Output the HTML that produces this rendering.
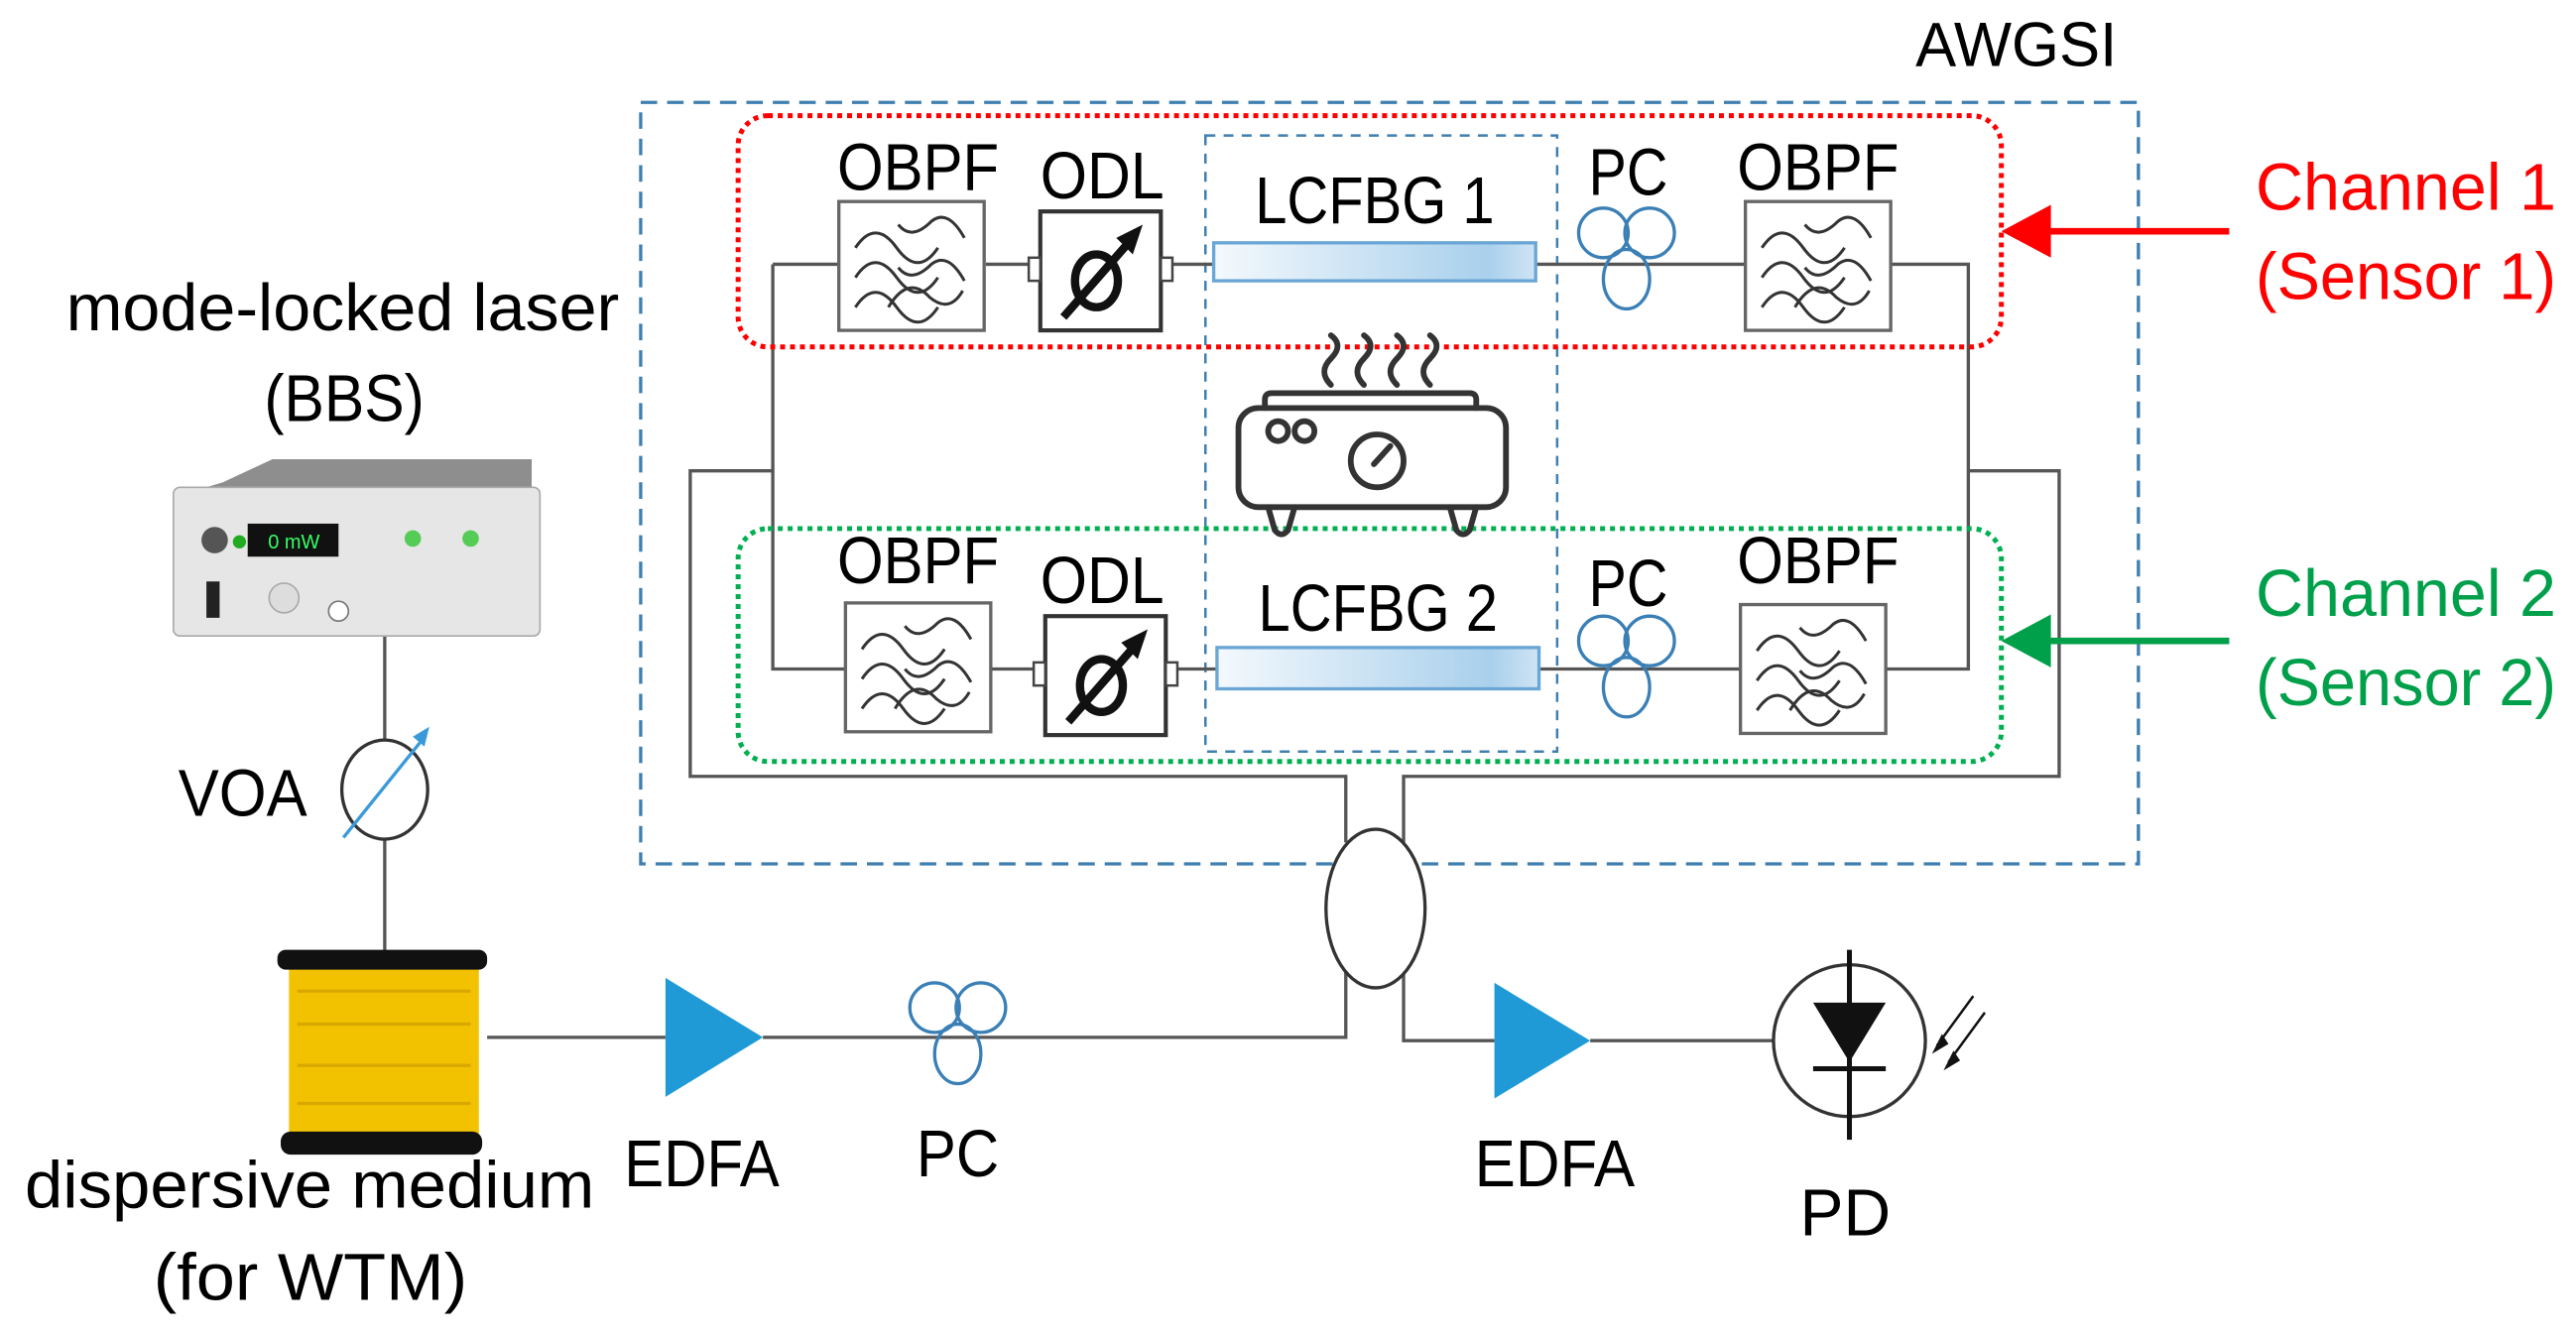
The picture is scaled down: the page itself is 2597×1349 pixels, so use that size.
<!DOCTYPE html>
<html><head><meta charset="utf-8"><style>html,body{margin:0;padding:0;background:#fff}svg{display:block}
text{font-family:"Liberation Sans Narrow","Liberation Sans",sans-serif;}</style></head>
<body>
<svg width="2597" height="1349" viewBox="0 0 1560 810" preserveAspectRatio="none" xmlns="http://www.w3.org/2000/svg">
<defs>
<linearGradient id="fbg" x1="0" x2="1"><stop offset="0" stop-color="#f4f9fd"/><stop offset="0.85" stop-color="#a9d0ec"/><stop offset="1" stop-color="#cfe4f4"/></linearGradient>
<g id="filt"><rect x="0" y="0" width="88" height="78" fill="#fff" stroke="#666" stroke-width="2"/>
<path d="M10 28 q12 -18 25 0 t25 0 M10 46 q12 -18 25 0 t25 0 M10 64 q12 -18 25 0 t25 0 M36 14 q8 10 20 -2 q10 -8 20 10 M36 40 q8 10 20 -2 q10 -8 20 10 M30 64 q12 -20 25 -6 q12 10 20 -4" fill="none" stroke="#333" stroke-width="1.8"/></g>
<g id="odl"><rect x="0" y="0" width="73" height="72" fill="#fff" stroke="#333" stroke-width="2.5"/>
<rect x="-7" y="28" width="7" height="14" fill="#fff" stroke="#444" stroke-width="1.5"/><rect x="73" y="28" width="7" height="14" fill="#fff" stroke="#444" stroke-width="1.5"/>
<ellipse cx="34" cy="42" rx="13" ry="16" fill="none" stroke="#111" stroke-width="5"/>
<line x1="14" y1="64" x2="56" y2="16" stroke="#111" stroke-width="5"/><polygon points="62,8 46,16 56,26" fill="#111"/></g>
<g id="pc" fill="none" stroke="#3a7fb5" stroke-width="2"><circle cx="-14" cy="0" r="15"/><circle cx="14" cy="0" r="15"/><ellipse cx="0" cy="28" rx="14" ry="18"/></g>
</defs>
<rect x="388" y="62" width="907" height="461" fill="none" stroke="#3f7fb0" stroke-width="2" stroke-dasharray="10,6"/>
<text x="1160" y="40" font-size="38" textLength="122" lengthAdjust="spacingAndGlyphs">AWGSI</text>
<rect x="730" y="82" width="213" height="373" fill="none" stroke="#3f7fb0" stroke-width="1.5" stroke-dasharray="6,5"/>
<g fill="none" stroke="#555" stroke-width="2">
<polyline points="468,285 418,285 418,470 815,470 815,510"/>
<polyline points="1192,285 1247,285 1247,470 850,470 850,510"/>
<polyline points="815,588 815,628 462,628"/>
<polyline points="295,628 403,628"/>
<polyline points="850,588 850,630 905,630"/>
<polyline points="963,630 1075,630"/>
<polyline points="468,160 508,160"/><polyline points="468,160 468,405 512,405"/>
<polyline points="597,160 623,160"/><polyline points="710,160 735,160"/>
<polyline points="930,160 1057,160"/><polyline points="1145,160 1192,160 1192,405 1142,405"/>
<polyline points="598,405 626,405"/><polyline points="712,405 737,405"/><polyline points="932,405 1055,405"/>
<line x1="233" y1="385" x2="233" y2="578"/>
</g>
<rect x="447" y="70" width="765" height="140" rx="18" fill="none" stroke="#f00" stroke-width="3" stroke-dasharray="3,3"/>
<rect x="447" y="320" width="765" height="141" rx="18" fill="none" stroke="#00b050" stroke-width="3" stroke-dasharray="3,3"/>
<use href="#filt" x="508" y="122"/><use href="#odl" x="630" y="128"/>
<rect x="735" y="147" width="195" height="23" fill="url(#fbg)" stroke="#6aa6d6" stroke-width="2"/>
<use href="#pc" x="985" y="141"/><use href="#filt" x="1057" y="122"/>
<g font-size="40">
<text x="507" y="115" textLength="98" lengthAdjust="spacingAndGlyphs">OBPF</text>
<text x="630" y="120" textLength="75" lengthAdjust="spacingAndGlyphs">ODL</text>
<text x="760" y="135" textLength="145" lengthAdjust="spacingAndGlyphs">LCFBG 1</text>
<text x="962" y="118" textLength="48" lengthAdjust="spacingAndGlyphs">PC</text>
<text x="1052" y="115" textLength="98" lengthAdjust="spacingAndGlyphs">OBPF</text>
<text x="507" y="353" textLength="98" lengthAdjust="spacingAndGlyphs">OBPF</text>
<text x="630" y="365" textLength="75" lengthAdjust="spacingAndGlyphs">ODL</text>
<text x="762" y="382" textLength="145" lengthAdjust="spacingAndGlyphs">LCFBG 2</text>
<text x="962" y="367" textLength="48" lengthAdjust="spacingAndGlyphs">PC</text>
<text x="1052" y="353" textLength="98" lengthAdjust="spacingAndGlyphs">OBPF</text>
</g>
<use href="#filt" x="512" y="365"/><use href="#odl" x="633" y="373"/>
<rect x="737" y="392" width="195" height="25" fill="url(#fbg)" stroke="#6aa6d6" stroke-width="2"/>
<use href="#pc" x="985" y="388"/><use href="#filt" x="1054" y="366"/>
<g fill="none" stroke="#333" stroke-width="3.5" stroke-linecap="round">
<path d="M806 203 q8 6 0 14 q-8 8 0 16 M826 203 q8 6 0 14 q-8 8 0 16 M846 203 q8 6 0 14 q-8 8 0 16 M866 203 q8 6 0 14 q-8 8 0 16"/>
<path d="M766 247 v-5 q0 -4 4 -4 h120 q4 0 4 4 v5"/>
<rect x="750" y="247" width="162" height="60" rx="12"/>
<circle cx="774" cy="261" r="6"/><circle cx="790" cy="261" r="6"/>
<circle cx="834" cy="279" r="16"/><line x1="832" y1="281" x2="842" y2="270"/>
<path d="M768 307 l4 14 q4 5 8 0 l4 -14 M878 307 l4 14 q4 5 8 0 l4 -14"/>
</g>
<g font-size="40">
<text x="1366" y="127" fill="#f00" textLength="182" lengthAdjust="spacingAndGlyphs">Channel 1</text>
<text x="1366" y="181" fill="#f00" textLength="182" lengthAdjust="spacingAndGlyphs">(Sensor 1)</text>
<text x="1366" y="373" fill="#00a04a" textLength="182" lengthAdjust="spacingAndGlyphs">Channel 2</text>
<text x="1366" y="427" fill="#00a04a" textLength="182" lengthAdjust="spacingAndGlyphs">(Sensor 2)</text>
</g>
<line x1="1350" y1="140" x2="1240" y2="140" stroke="#f00" stroke-width="4"/><polygon points="1212,140 1242,124 1242,156" fill="#f00"/>
<line x1="1350" y1="388" x2="1240" y2="388" stroke="#00a04a" stroke-width="4"/><polygon points="1212,388 1242,372 1242,404" fill="#00a04a"/>
<ellipse cx="833" cy="550" rx="30" ry="48" fill="#fff" stroke="#333" stroke-width="2"/>
<g font-size="40">
<text x="40" y="200" textLength="335" lengthAdjust="spacingAndGlyphs">mode-locked laser</text>
<text x="160" y="255" textLength="97" lengthAdjust="spacingAndGlyphs">(BBS)</text>
<text x="108" y="494" textLength="78" lengthAdjust="spacingAndGlyphs">VOA</text>
<text x="15" y="731" textLength="345" lengthAdjust="spacingAndGlyphs">dispersive medium</text>
<text x="93" y="787" textLength="190" lengthAdjust="spacingAndGlyphs">(for WTM)</text>
<text x="378" y="718" textLength="94" lengthAdjust="spacingAndGlyphs">EDFA</text>
<text x="555" y="712" textLength="50" lengthAdjust="spacingAndGlyphs">PC</text>
<text x="893" y="718" textLength="97" lengthAdjust="spacingAndGlyphs">EDFA</text>
<text x="1090" y="748" textLength="55" lengthAdjust="spacingAndGlyphs">PD</text>
</g>
<polygon points="135,292 165,278 322,278 322,300 108,300" fill="#8e8e8e"/>
<rect x="105" y="295" width="222" height="90" rx="4" fill="#e6e6e6" stroke="#aaa"/>
<rect x="150" y="317" width="55" height="20" fill="#111"/><text x="178" y="332" font-size="12" fill="#3f6" text-anchor="middle">0 mW</text>
<circle cx="130" cy="327" r="8" fill="#555"/><circle cx="145" cy="328" r="4" fill="#2a2"/>
<rect x="125" y="352" width="8" height="22" fill="#222"/><circle cx="172" cy="362" r="9" fill="#ddd" stroke="#aaa"/><circle cx="205" cy="370" r="6" fill="#fff" stroke="#777"/>
<circle cx="250" cy="326" r="5" fill="#5c5"/><circle cx="285" cy="326" r="5" fill="#5c5"/>
<ellipse cx="233" cy="478" rx="26" ry="30" fill="#fff" stroke="#333" stroke-width="2"/>
<line x1="208" y1="507" x2="258" y2="445" stroke="#3a9ad9" stroke-width="2"/><polygon points="260,440 250,446 257,452" fill="#3a9ad9"/>
<rect x="175" y="582" width="115" height="110" fill="#f2c200"/>
<path d="M180 600 h105 M180 620 h105 M180 645 h105 M180 668 h105" stroke="#d9a800" stroke-width="2"/>
<rect x="168" y="575" width="127" height="12" rx="5" fill="#111"/>
<rect x="170" y="685" width="122" height="14" rx="6" fill="#111"/>
<polygon points="403,592 462,628 403,664" fill="#1f9ad6"/>
<use href="#pc" x="580" y="610"/>
<polygon points="905,595 963,630 905,665" fill="#1f9ad6"/>
<ellipse cx="1120" cy="630" rx="46" ry="46" fill="#fff" stroke="#333" stroke-width="2"/>
<line x1="1120" y1="575" x2="1120" y2="690" stroke="#111" stroke-width="3"/>
<polygon points="1098,607 1142,607 1120,643" fill="#111"/><line x1="1098" y1="647" x2="1142" y2="647" stroke="#111" stroke-width="3"/>
<path d="M1195 603 l-22 30 M1202 613 l-22 30" stroke="#111" stroke-width="1.5"/>
<polygon points="1170,638 1176,626 1180,632" fill="#111"/><polygon points="1177,648 1183,636 1187,642" fill="#111"/>
</svg>
</body></html>
